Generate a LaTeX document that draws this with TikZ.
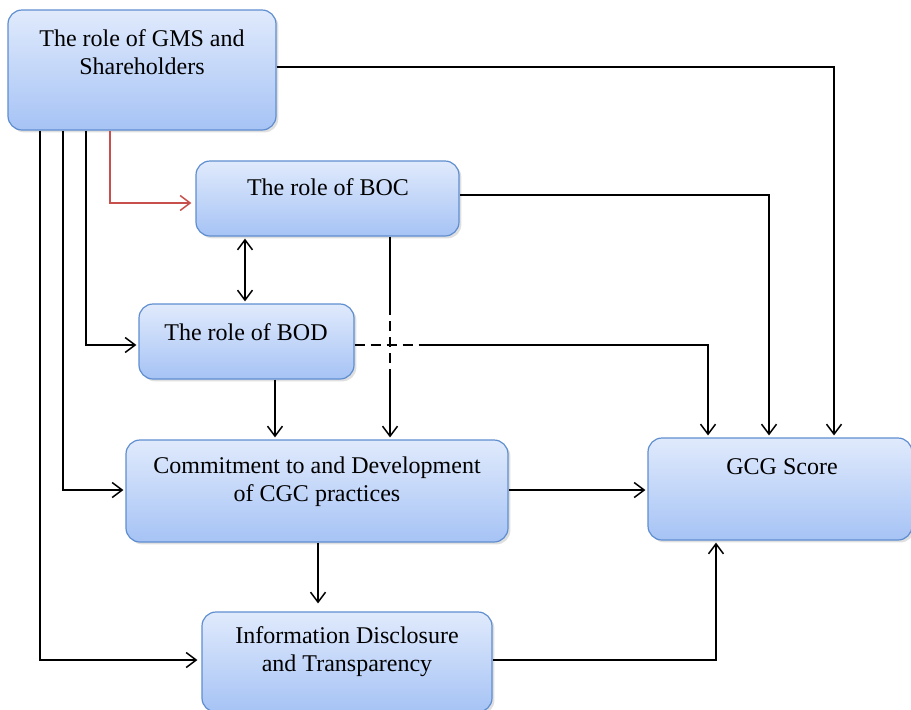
\documentclass[tikz,border=0pt]{standalone}
\usepackage{fontspec}
\setmainfont{Liberation Serif}
\usetikzlibrary{arrows.meta,shadows}
\definecolor{boxtop}{HTML}{E0EAFC}
\definecolor{boxbot}{HTML}{A6C3F5}
\definecolor{boxline}{HTML}{5E8ED0}
\definecolor{redline}{HTML}{C8504C}
\tikzset{
  box/.style={draw=boxline, line width=0.6pt, rounded corners=7pt,
    top color=boxtop, bottom color=boxbot, inner sep=0pt,
    drop shadow={shadow xshift=1.2pt, shadow yshift=-1.2pt, opacity=0.25}},
  lbl/.style={font=\fontsize{12}{14}\selectfont, align=center, inner sep=0pt},
  conn/.style={line width=0.75pt, black},
  arr/.style={conn, -{Straight Barb[length=5pt,width=7.5pt]}, shorten >=1pt},
  dbl/.style={conn, {Straight Barb[length=5pt,width=7.5pt]}-{Straight Barb[length=5pt,width=7.5pt]}, shorten >=1pt, shorten <=1pt},
}
\begin{document}
\begin{tikzpicture}[x=0.5pt,y=-0.5pt]
\useasboundingbox (0,0) rectangle (911,709);
% boxes
\node[box, minimum width=134pt, minimum height=60pt] (gms) at (142,70) {};
\node[box, minimum width=131.5pt, minimum height=37.5pt] (boc) at (327.5,198.5) {};
\node[box, minimum width=107.5pt, minimum height=37.5pt] (bod) at (246.5,341.5) {};
\node[box, minimum width=191pt, minimum height=51pt] (cmt) at (317,491) {};
\node[box, minimum width=132pt, minimum height=51pt] (gcg) at (780,489) {};
\node[box, minimum width=145pt, minimum height=50pt] (info) at (347,662) {};
% labels
\node[lbl] (tgms) at (142,52) {The role of GMS and\\Shareholders};
\node[lbl] (tboc) at (328,187) {The role of BOC};
\node[lbl] (tbod) at (246,332) {The role of BOD};
\node[lbl] (tcmt) at (317,482) {Commitment to and Development\\of CGC practices};
\node[lbl] (tgcg) at (782,467) {GCG Score};
\node[lbl] (tinfo) at (347,652) {Information Disclosure\\and Transparency};
% coordinates
\coordinate (dA) at (420,345);
\coordinate (dB) at (390,305);
\coordinate (dC) at (390,375);
% connectors
\draw[arr] (gms.east |- 0,67) -| (gcg.north -| 834,0);
\draw[arr] (boc.east |- 0,195) -| (gcg.north -| 769,0);
\draw[conn, dash pattern=on 5pt off 3pt] (bod.east |- 0,345) -- (dA);
\draw[arr] (dA) -| (gcg.north -| 708,0);
\draw[conn] (boc.south -| 390,0) -- (dB);
\draw[conn, dash pattern=on 5pt off 3pt] (dB) -- (dC);
\draw[arr] (dC) -- (cmt.north -| 390,0);
\draw[dbl] (boc.south -| 245,0) -- (bod.north -| 245,0);
\draw[arr] (bod.south -| 275,0) -- (cmt.north -| 275,0);
\draw[arr, redline, shorten >=2pt] (gms.south -| 110,0) |- (boc.west |- 0,203);
\draw[arr] (gms.south -| 86,0) |- (bod.west |- 0,345);
\draw[arr] (gms.south -| 63,0) |- (cmt.west |- 0,490);
\draw[arr, shorten >=2pt] (gms.south -| 40,0) |- (info.west |- 0,660);
\draw[arr] (cmt.east |- 0,490) -- (gcg.west |- 0,490);
\draw[arr, shorten >=4pt] (cmt.south -| 318,0) -- (info.north -| 318,0);
\draw[arr] (info.east |- 0,660) -| (gcg.south -| 716,0);
\end{tikzpicture}
\end{document}
